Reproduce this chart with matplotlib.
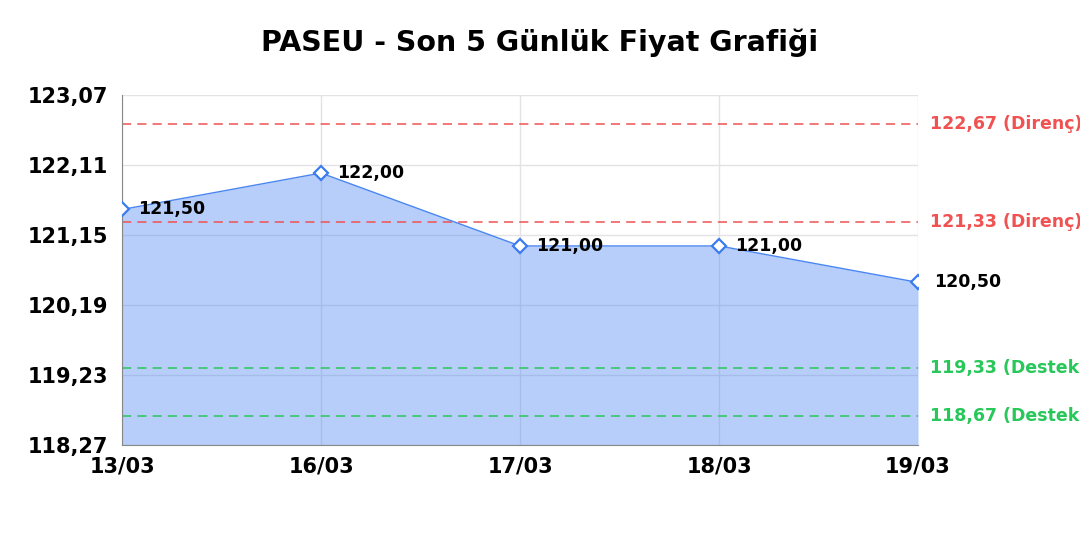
import numpy as np
import matplotlib.pyplot as plt

plt.rcParams['font.family'] = ['DejaVu Sans']

# data
dates = ['13/03', '16/03', '17/03', '18/03', '19/03']
prices = [121.50, 122.00, 121.00, 121.00, 120.50]
direnc = [122.67, 121.33]
destek = [119.33, 118.67]
yticks = [118.27, 119.23, 120.19, 121.15, 122.11, 123.07]

def tr(v):
    return f"{v:.2f}".replace('.', ',')

fig = plt.figure(figsize=(10.8, 5.4), dpi=100)
ax = fig.add_axes([0.113, 0.176, 0.737, 0.648])

x = np.arange(len(dates))
ax.fill_between(x, prices, yticks[0], color='#4a86f0', alpha=0.4, lw=0, zorder=1)
ax.plot(x, prices, color='#4a86f0', lw=1, zorder=3)
ax.plot(x, prices, ls='none', marker='D', ms=7, mfc='white', mec='#3b7bf0', mew=1.6, zorder=4)

for xi, p in zip(x, prices):
    ax.annotate(tr(p), (xi, p), xytext=(11.5, 0), textcoords='offset points',
                va='center', ha='left', fontsize=12.5, fontweight='bold', zorder=5)

for v in direnc:
    ax.axhline(v, color='#f05252', ls=(0, (6, 4)), lw=1.1, zorder=2)
    ax.annotate(f"{tr(v)} (Direnç)", (1, v), xycoords=('axes fraction', 'data'),
                xytext=(8.5, 0), textcoords='offset points', va='center', ha='left',
                color='#f05252', fontsize=12.5, fontweight='bold', annotation_clip=False)
for v in destek:
    ax.axhline(v, color='#28c75a', ls=(0, (6, 4)), lw=1.1, zorder=2)
    ax.annotate(f"{tr(v)} (Destek)", (1, v), xycoords=('axes fraction', 'data'),
                xytext=(8.5, 0), textcoords='offset points', va='center', ha='left',
                color='#28c75a', fontsize=12.5, fontweight='bold', annotation_clip=False)

ax.set_xlim(0, len(dates) - 1)
ax.set_ylim(yticks[0], yticks[-1])
ax.set_xticks(x)
ax.set_xticklabels(dates, fontsize=15, fontweight='bold')
ax.set_yticks(yticks)
ax.set_yticklabels([tr(v) for v in yticks], fontsize=15, fontweight='bold')
ax.tick_params(length=0)
ax.tick_params(axis='y', pad=10)
ax.tick_params(axis='x', pad=8)
ax.grid(True, color='#e3e3e3', lw=1, zorder=0)
ax.set_axisbelow(True)
for s in ['top', 'right']:
    ax.spines[s].set_visible(False)
ax.spines['left'].set_color('#888888')
ax.spines['bottom'].set_color('#888888')

fig.suptitle('PASEU - Son 5 Günlük Fiyat Grafiği', fontsize=20.5, fontweight='bold', y=0.948)

fig.savefig('out.png', dpi=100)
